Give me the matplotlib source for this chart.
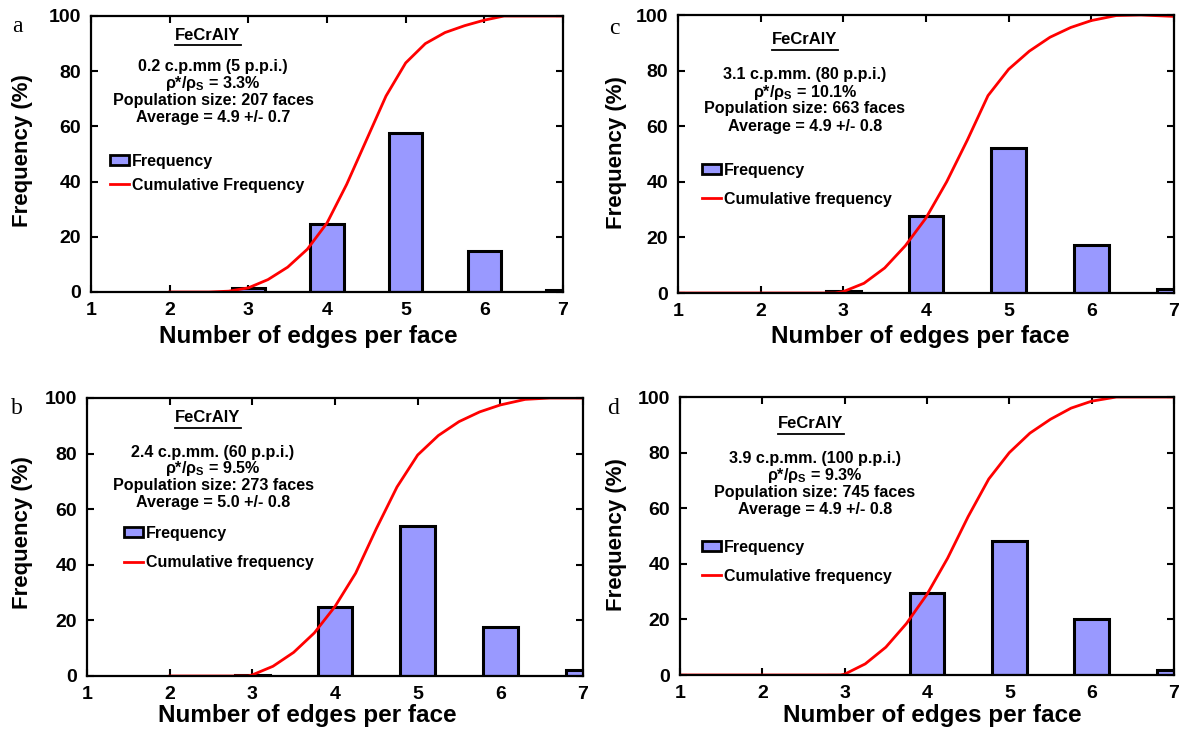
import matplotlib
matplotlib.use("Agg")
import matplotlib.pyplot as plt
from matplotlib.patches import Patch
from matplotlib.lines import Line2D

plt.rcParams['font.family'] = ['Liberation Sans', 'DejaVu Sans']
plt.rcParams['font.weight'] = 'bold'
plt.rcParams['mathtext.fontset'] = 'custom'
plt.rcParams['mathtext.rm'] = 'Liberation Sans:bold'
plt.rcParams['mathtext.it'] = 'Liberation Sans:bold'
plt.rcParams['mathtext.bf'] = 'Liberation Sans:bold'

# ---------------- data ----------------
edges = [3, 4, 5, 6, 7]

freq_a = [1.5, 24.5, 57.5, 15.0, 0.8]
freq_b = [0.5, 24.7, 54.1, 17.6, 2.2]
freq_c = [0.7, 27.6, 52.2, 17.3, 1.4]
freq_d = [0.0, 29.5, 48.1, 20.1, 1.9]

cum_a_x = [2, 2.5, 2.75, 3, 3.25, 3.5, 3.75, 4, 4.25, 4.5, 4.75, 5, 5.25, 5.5, 5.75, 6, 6.25, 6.5, 7]
cum_a_y = [0, 0, 0.3, 1.5, 4.5, 9, 15.5, 25, 39, 55, 71, 83, 90, 94, 96.5, 98.5, 100, 100, 100]

cum_b_x = [2, 2.5, 2.95, 3, 3.25, 3.5, 3.75, 4, 4.25, 4.5, 4.75, 5, 5.25, 5.5, 5.75, 6, 6.3, 6.6, 7]
cum_b_y = [0, 0, 0, 0.4, 3.5, 8.5, 15.5, 25, 37, 53, 68, 79.5, 86.5, 91.5, 95, 97.5, 99.5, 100, 100]

cum_c_x = [1, 2, 2.9, 3, 3.25, 3.5, 3.75, 4, 4.25, 4.5, 4.75, 5, 5.25, 5.5, 5.75, 6, 6.3, 6.6, 7]
cum_c_y = [0, 0, 0, 0.5, 3.5, 9, 17, 27, 40, 55, 71, 80.5, 87, 92, 95.5, 98, 99.8, 100, 99.5]

cum_d_x = [1, 2, 2.95, 3, 3.25, 3.5, 3.75, 4, 4.25, 4.5, 4.75, 5, 5.25, 5.5, 5.75, 6, 6.3, 6.6, 7]
cum_d_y = [0, 0, 0, 0.3, 4, 10, 18.5, 29, 42, 57, 70.5, 80, 87, 92, 96, 98.5, 100, 100, 100]

x_ticks = [1, 2, 3, 4, 5, 6, 7]
y_ticks = [0, 20, 40, 60, 80, 100]

info_a = ["0.2 c.p.mm (5 p.p.i.)", r"ρ*/ρ$_\mathregular{S}$ = 3.3%", "Population size: 207 faces", "Average = 4.9 +/- 0.7"]
info_b = ["2.4 c.p.mm. (60 p.p.i.)", r"ρ*/ρ$_\mathregular{S}$ = 9.5%", "Population size: 273 faces", "Average = 5.0 +/- 0.8"]
info_c = ["3.1 c.p.mm. (80 p.p.i.)", r"ρ*/ρ$_\mathregular{S}$ = 10.1%", "Population size: 663 faces", "Average = 4.9 +/- 0.8"]
info_d = ["3.9 c.p.mm. (100 p.p.i.)", r"ρ*/ρ$_\mathregular{S}$ = 9.3%", "Population size: 745 faces", "Average = 4.9 +/- 0.8"]

cum_label_a = "Cumulative Frequency"
cum_label_other = "Cumulative frequency"

# ---------------- layout (pixels) ----------------
W, H = 1182, 729
fig = plt.figure(figsize=(W / 100, H / 100), dpi=100)

BAR_COLOR = '#9999ff'

panels = [
    dict(letter='a', box=(91, 563, 16, 292), freq=freq_a, cx=cum_a_x, cy=cum_a_y, info=info_a, cum_label=cum_label_a,
         letter_xy=(17, 27), title_xy=(208, 35), info_xy=(213, 67), info_dy=16.7, leg_xy=(110, 154), leg_sp=0.55,
         xlabel_xy=(308, 325), ylabel_xy=(33, 151)),
    dict(letter='c', box=(678, 1174, 15, 293), freq=freq_c, cx=cum_c_x, cy=cum_c_y, info=info_c, cum_label=cum_label_other,
         letter_xy=(614, 28), title_xy=(805, 40), info_xy=(805, 75), info_dy=17, leg_xy=(702, 163), leg_sp=0.85,
         xlabel_xy=(920, 325), ylabel_xy=(627, 153)),
    dict(letter='b', box=(87, 583, 398, 676), freq=freq_b, cx=cum_b_x, cy=cum_b_y, info=info_b, cum_label=cum_label_other,
         letter_xy=(17, 409), title_xy=(208, 418), info_xy=(213, 452), info_dy=16.7, leg_xy=(124, 526), leg_sp=0.9,
         xlabel_xy=(307, 704), ylabel_xy=(33, 533)),
    dict(letter='d', box=(680, 1174, 397, 675), freq=freq_d, cx=cum_d_x, cy=cum_d_y, info=info_d, cum_label=cum_label_other,
         letter_xy=(613, 408), title_xy=(811, 424), info_xy=(815, 459), info_dy=16.7, leg_xy=(702, 540), leg_sp=0.85,
         xlabel_xy=(932, 704), ylabel_xy=(627, 535)),
]


def fx(px):
    return px / W


def fy(py):
    return 1 - py / H


for p in panels:
    l, r, t, b = p['box']
    ax = fig.add_axes([fx(l), fy(b), (r - l) / W, (b - t) / H])
    ax.bar(edges, p['freq'], width=0.42, color=BAR_COLOR, edgecolor='black', linewidth=2.2, zorder=2)
    ax.plot(p['cx'], p['cy'], color='red', linewidth=2.0, zorder=3, solid_joinstyle='round')
    ax.set_xlim(1, 7)
    ax.set_ylim(0, 100)
    ax.set_xticks(x_ticks)
    ax.set_yticks(y_ticks)
    ax.tick_params(direction='in', length=5, width=1.5, top=True, right=True, labelsize=14, pad=7)
    for lab in ax.get_xticklabels() + ax.get_yticklabels():
        lab.set_fontweight('bold')
    for s in ax.spines.values():
        s.set_linewidth(1.6)
        s.set_zorder(4)

    ax.set_xlabel('Number of edges per face', fontsize=17.5, fontweight='bold')
    ax.set_ylabel('Frequency (%)', fontsize=16, fontweight='bold')
    ax.xaxis.set_label_coords(fx(p['xlabel_xy'][0]), fy(p['xlabel_xy'][1]), transform=fig.transFigure)
    ax.yaxis.set_label_coords(fx(p['ylabel_xy'][0]), fy(p['ylabel_xy'][1]), transform=fig.transFigure)

    # panel letter
    fig.text(fx(p['letter_xy'][0]), fy(p['letter_xy'][1]), p['letter'], fontsize=17,
             family=['Liberation Serif'], fontweight='normal', ha='center', va='center')

    # title
    fig.text(fx(p['title_xy'][0]), fy(p['title_xy'][1]), 'FeCrAlY', fontsize=12, fontweight='bold',
             ha='center', va='center')
    tw = 66
    fig.add_artist(Line2D([fx(p['title_xy'][0] - tw / 2), fx(p['title_xy'][0] + tw / 2)],
                          [fy(p['title_xy'][1] + 10), fy(p['title_xy'][1] + 10)],
                          transform=fig.transFigure, color='black', linewidth=1.3))

    # info lines
    for i, line in enumerate(p['info']):
        fig.text(fx(p['info_xy'][0]), fy(p['info_xy'][1] + i * p['info_dy']), line, fontsize=11.6,
                 fontweight='bold', ha='center', va='center')

    handles = [Patch(facecolor=BAR_COLOR, edgecolor='black', linewidth=2.0),
               Line2D([0], [0], color='red', linewidth=2.0)]
    ax.legend(handles, ['Frequency', p['cum_label']], loc='upper left',
              bbox_to_anchor=(fx(p['leg_xy'][0]), fy(p['leg_xy'][1])), bbox_transform=fig.transFigure,
              frameon=False, borderpad=0, borderaxespad=0, handlelength=1.2, handleheight=0.6,
              handletextpad=0.15, labelspacing=p['leg_sp'], prop={'size': 11.5, 'weight': 'bold'})

fig.savefig('out.png', dpi=100)
